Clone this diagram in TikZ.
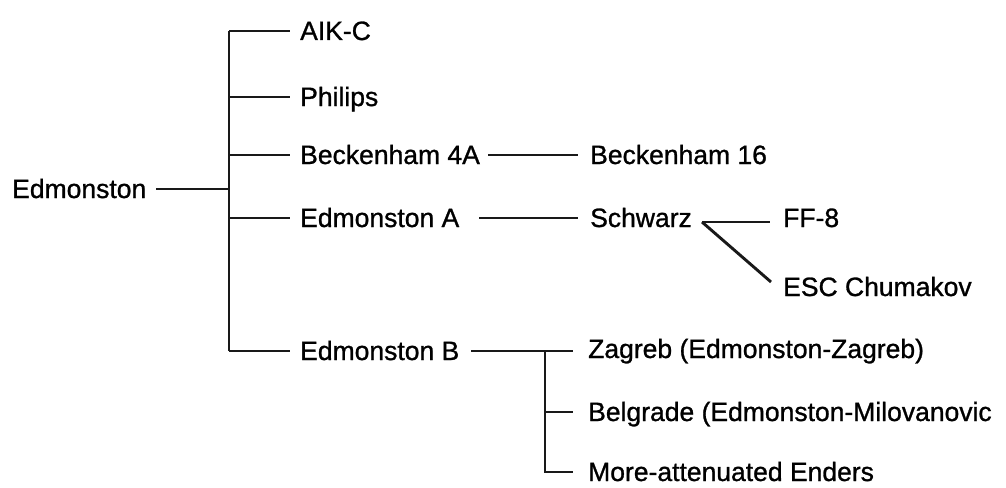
\documentclass[tikz,border=0pt]{standalone}
\usepackage{fontspec}
\newfontfamily\lblfont[FakeBold=1.0]{Liberation Sans}
\begin{document}
\begin{tikzpicture}[x=1pt,y=-1pt,
  lbl/.style={anchor=west,inner sep=0pt,font=\lblfont\fontsize{26.5}{30}\selectfont,text height=18pt,text depth=0pt},
  conn/.style={line width=2.9pt,black!90}]
\useasboundingbox (0,0) rectangle (1006,487);
% labels
\node[lbl] (edm) at (12,189) {Edmonston};
\node[lbl] (aik) at (300,31) {AIK-C};
\node[lbl] (phi) at (300,97) {Philips};
\node[lbl] (b4a) at (300,155) {Beckenham 4A};
\node[lbl] (b16) at (590,155) {Beckenham 16};
\node[lbl] (eda) at (300,218) {Edmonston A};
\node[lbl] (sch) at (590,218) {Schwarz};
\node[lbl] (ff8) at (783,218) {FF-8};
\node[lbl] (esc) at (783,287) {ESC Chumakov};
\node[lbl] (edb) at (300,351) {Edmonston B};
\node[lbl] (zag) at (588,349) {Zagreb (Edmonston-Zagreb)};
\node[lbl] (bel) at (588,412) {Belgrade (Edmonston-Milovanovic};
\node[lbl] (mor) at (588,472) {More-attenuated Enders};
% junctions
\coordinate (j0) at (229,189);
\coordinate (jt) at (229,31);
\coordinate (jp) at (229,97);
\coordinate (jb) at (229,155);
\coordinate (ja) at (229,218);
\coordinate (jbb) at (229,351);
\coordinate (ks) at (702,222);
\coordinate (ke) at (771,282);
\coordinate (kz) at (545,351);
\coordinate (kb) at (545,412);
\coordinate (km) at (545,472);
% connectors
\draw[conn] ([xshift=10pt]edm.east) -- (j0);
\draw[conn] (jt) -- (jbb);
\draw[conn] (jt) -- ([xshift=-10pt]aik.west);
\draw[conn] (jp) -- ([xshift=-10pt]phi.west);
\draw[conn] (jb) -- ([xshift=-10pt]b4a.west);
\draw[conn] (ja) -- ([xshift=-10pt]eda.west);
\draw[conn] (jbb) -- ([xshift=-10pt]edb.west);
\draw[conn] ([xshift=8pt]b4a.east) -- ([xshift=-12pt]b16.west);
\draw[conn] ([xshift=20pt]eda.east) -- ([xshift=-12pt]sch.west);
\draw[conn] (ks) -- ([xshift=-13pt]ff8.west |- ks);
\draw[conn] (ks) -- (ke);
\draw[conn] ([xshift=12pt]edb.east) -- (kz) -- ([xshift=-15pt]zag.west |- kz);
\draw[conn] (kz) -- (km) -- ([xshift=-15pt]mor.west);
\draw[conn] (kb) -- ([xshift=-15pt]bel.west);
\end{tikzpicture}
\end{document}
